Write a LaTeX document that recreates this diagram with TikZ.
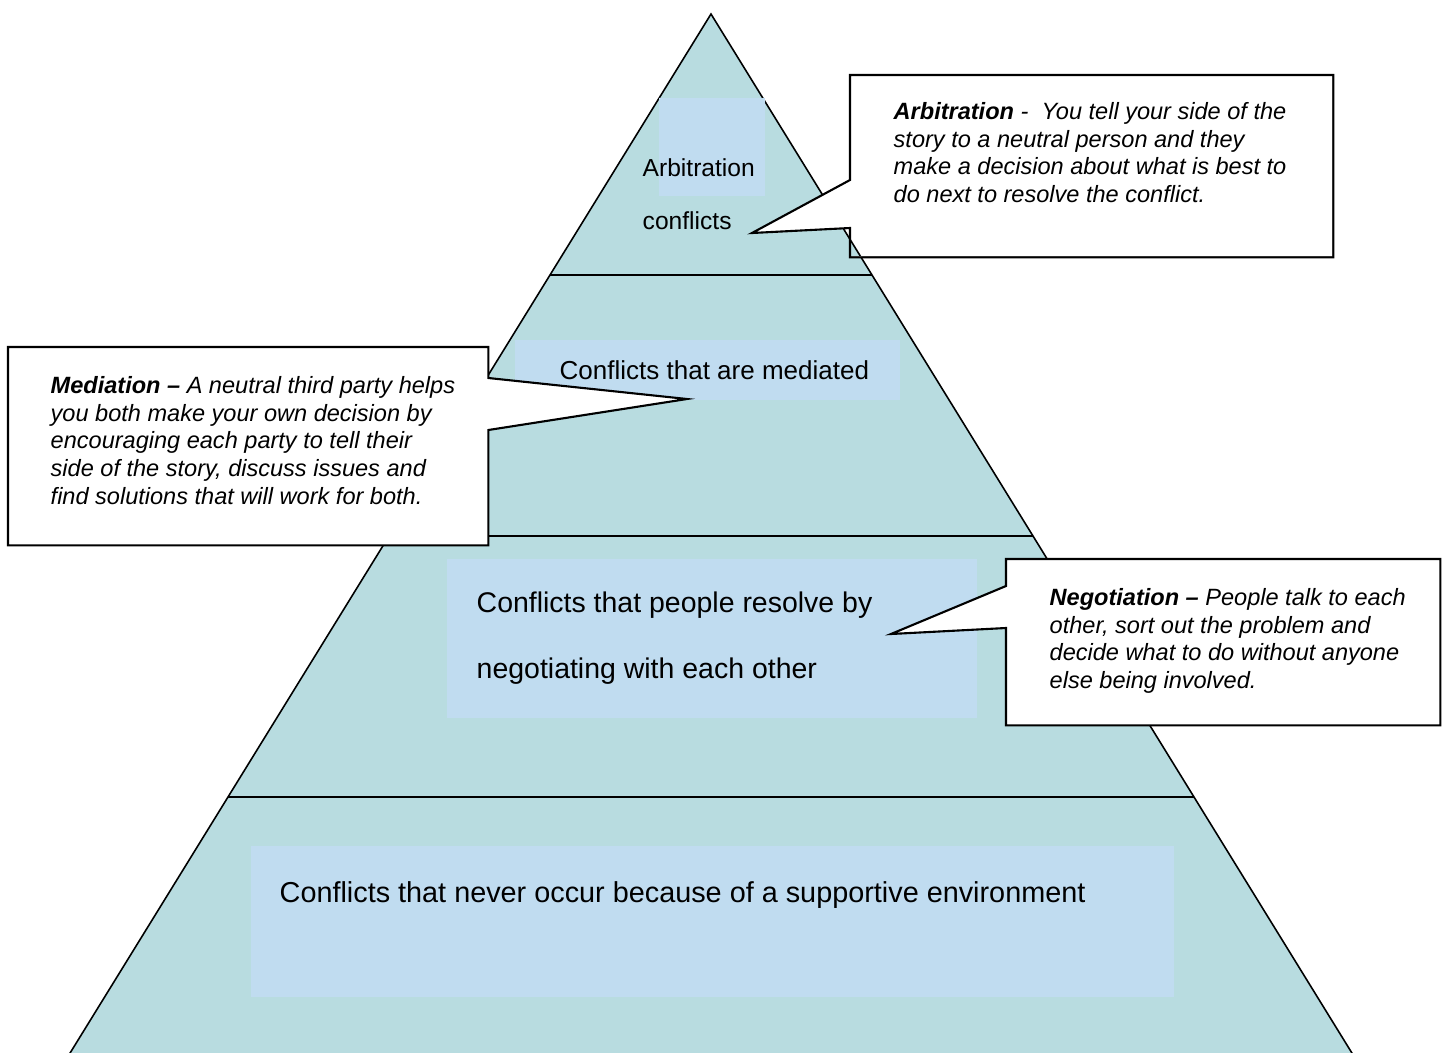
\documentclass[tikz,border=0pt]{standalone}
\usepackage{fontspec}
\setmainfont{Liberation Sans}
\usetikzlibrary{calc,positioning}
\definecolor{pyrfill}{RGB}{184,220,224}
\definecolor{lblfill}{RGB}{192,220,240}

\begin{document}
\begin{tikzpicture}[
    lblbox/.style={fill=lblfill, inner sep=0},
    lbltext/.style={anchor=base west, inner sep=0},
    callbox/.style={inner sep=0, anchor=north west},
    calloutline/.style={draw=black, line width=0.6pt, line join=miter},
    callshadow/.style={draw=black!45, line width=0.6pt, shift={(0.02,-0.02)}},
    calltext/.style={anchor=north west, inner sep=0, align=left, font=\fontsize{6.7}{7.85}\selectfont\itshape}]
  \useasboundingbox (0,0) rectangle (14.45,-10.53);
  \clip (0,0) rectangle (14.45,-10.53);

  % the arbitration box lies behind the top of the pyramid
  \node[callbox, fill=white, minimum width=4.82cm, minimum height=1.81cm] (arbbox) at (8.50,-0.75) {};

  % pyramid
  \coordinate (apex) at (7.11,-0.14);
  \coordinate (baseL) at (0.67,-10.58);
  \coordinate (baseR) at (13.55,-10.58);
  \fill[pyrfill] (apex) -- (baseL) -- (baseR) -- cycle;
  \draw[line width=0.45pt] (baseL) -- (apex) -- (baseR);
  \draw[line width=0.6pt] ($(apex)!0.25!(baseL)$) -- ($(apex)!0.25!(baseR)$);
  \draw[line width=0.6pt] ($(apex)!0.5!(baseL)$) -- ($(apex)!0.5!(baseR)$);
  \draw[line width=0.6pt] ($(apex)!0.75!(baseL)$) -- ($(apex)!0.75!(baseR)$);

  % label boxes
  \node[lblbox, minimum width=1.06cm, minimum height=0.98cm] (arbrect) at (7.12,-1.47) {};
  \node[lblbox, minimum width=3.85cm, minimum height=0.60cm] (medrect) at (7.075,-3.70) {};
  \node[lblbox, minimum width=5.30cm, minimum height=1.59cm] (negrect) at (7.12,-6.385) {};
  \node[lblbox, minimum width=9.23cm, minimum height=1.51cm] (suprect) at (7.125,-9.215) {};

  \node[lbltext, font=\fontsize{7}{8}\selectfont] (arblabel) at (6.42,-1.76) {Arbitration};
  \node[lbltext, font=\fontsize{7}{8}\selectfont] (arblabelb) at (6.42,-2.29) {conflicts};
  \node[lbltext, font=\fontsize{7.4}{8}\selectfont] (medlabel) at (5.59,-3.79) {Conflicts that are mediated};
  \node[lbltext, font=\fontsize{8.1}{9}\selectfont] (neglabel) at (4.76,-6.12) {Conflicts that people resolve by};
  \node[lbltext, font=\fontsize{8.1}{9}\selectfont] (neglabelb) at (4.76,-6.78) {negotiating with each other};
  \node[lbltext, font=\fontsize{8.2}{9}\selectfont] (suplabel) at (2.79,-9.02) {Conflicts that never occur because of a supportive environment};

  % arbitration callout
  \coordinate (arbtip) at (7.52,-2.33);
  \draw[callshadow] (arbbox.north east) -- (arbbox.south east) -- (arbbox.south west);
  \fill[white] ([yshift=-1.05cm]arbbox.north west) -- (arbtip) -- ([yshift=-1.53cm]arbbox.north west) -- cycle;
  \draw[calloutline] (arbbox.north west) -- (arbbox.north east) -- (arbbox.south east) -- (arbbox.south west)
    -- ([yshift=-1.53cm]arbbox.north west) -- (arbtip) -- ([yshift=-1.05cm]arbbox.north west) -- cycle;
  \node[calltext] (arbtext) at ([xshift=0.43cm,yshift=-0.27cm]arbbox.north west)
    {\textbf{Arbitration} - \ You tell your side of the\\ story to a neutral person and they\\
     make a decision about what is best to\\ do next to resolve the conflict.};

  % mediation callout
  \node[callbox, minimum width=4.79cm, minimum height=1.97cm] (medbox) at (0.08,-3.47) {};
  \coordinate (medtip) at (6.87,-3.99);
  \draw[callshadow] (medbox.north east) -- (medbox.south east) -- (medbox.south west);
  \filldraw[calloutline, fill=white] (medbox.north west) -- (medbox.north east) -- ([yshift=-0.31cm]medbox.north east)
    -- (medtip) -- ([yshift=-0.83cm]medbox.north east) -- (medbox.south east) -- (medbox.south west) -- cycle;
  \node[calltext] (medtext) at ([xshift=0.42cm,yshift=-0.29cm]medbox.north west)
    {\textbf{Mediation --} A neutral third party helps\\ you both make your own decision by\\
     encouraging each party to tell their\\ side of the story, discuss issues and\\ find solutions that will work for both.};

  % negotiation callout
  \node[callbox, minimum width=4.33cm, minimum height=1.65cm] (negbox) at (10.06,-5.59) {};
  \coordinate (negtip) at (8.91,-6.34);
  \draw[callshadow] (negbox.north east) -- (negbox.south east) -- (negbox.south west);
  \filldraw[calloutline, fill=white] (negbox.north west) -- (negbox.north east) -- (negbox.south east) -- (negbox.south west)
    -- ([yshift=-0.69cm]negbox.north west) -- (negtip) -- ([yshift=-0.27cm]negbox.north west) -- cycle;
  \node[calltext] (negtext) at ([xshift=0.43cm,yshift=-0.29cm]negbox.north west)
    {\textbf{Negotiation --} People talk to each\\ other, sort out the problem and\\
     decide what to do without anyone\\ else being involved.};
\end{tikzpicture}
\end{document}
